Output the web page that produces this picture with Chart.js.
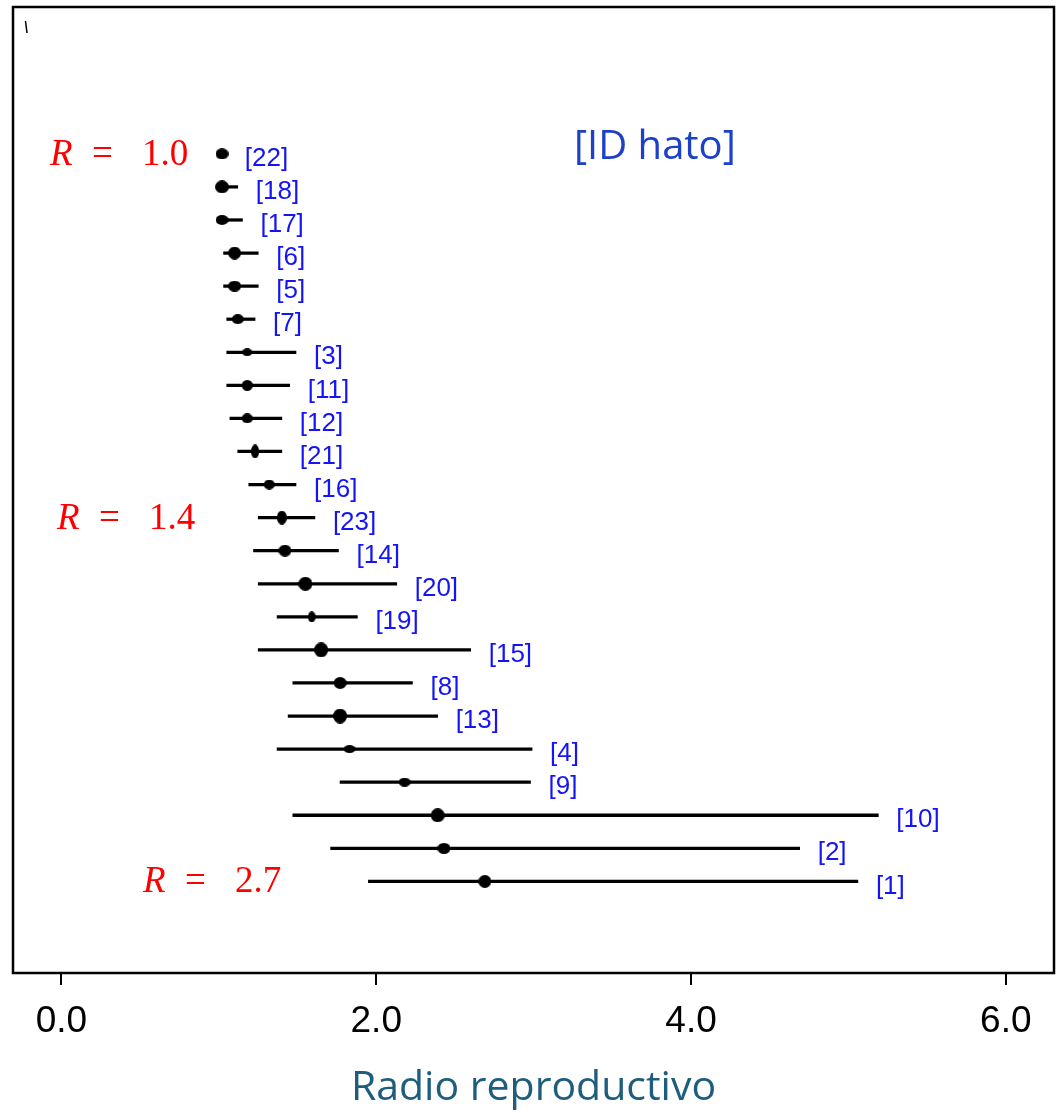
<!DOCTYPE html>
<html>
<head>
<meta charset="utf-8">
<script src="https://cdn.jsdelivr.net/npm/chart.js@4/dist/chart.umd.min.js"></script>
<style>
  html, body { margin: 0; padding: 0; background: #fff; }
  #wrap { width: 1061px; height: 1113px; }
</style>
</head>
<body>
<div id="wrap"><canvas id="myChart" width="1061" height="1113"></canvas></div>
<script>
  // Herd IDs, top to bottom
  var herdIds = ['22', '18', '17', '6', '5', '7', '3', '11', '12', '21', '16', '23',
                 '14', '20', '19', '15', '8', '13', '4', '9', '10', '2', '1'];
  // Reproductive ratio: estimate and interval
  var estimate = [1.02, 1.02, 1.02, 1.10, 1.10, 1.12, 1.18, 1.18, 1.18, 1.23, 1.32, 1.40,
                  1.42, 1.55, 1.59, 1.65, 1.77, 1.77, 1.83, 2.18, 2.39, 2.43, 2.69];
  var lower    = [1.00, 0.99, 0.99, 1.03, 1.03, 1.05, 1.05, 1.05, 1.07, 1.12, 1.19, 1.25,
                  1.22, 1.25, 1.37, 1.25, 1.47, 1.44, 1.37, 1.77, 1.47, 1.71, 1.95];
  var upper    = [1.05, 1.12, 1.15, 1.25, 1.25, 1.23, 1.49, 1.45, 1.40, 1.40, 1.49, 1.61,
                  1.76, 2.13, 1.88, 2.60, 2.23, 2.39, 2.99, 2.98, 5.19, 4.69, 5.06];
  var xTicks = [0, 2, 4, 6];

  // marker half-sizes [rx, ry] in px (styling only)
  var markerSize = [[6.5, 5.5], [7, 6.5], [6.5, 5], [6.5, 6.5], [6.5, 5.5], [6, 5], [5, 4], [5.5, 5.5],
                    [5.5, 5], [4, 7], [5.5, 5], [5, 7], [6.5, 6], [7, 7], [3.8, 5.5], [7, 7.5],
                    [6.5, 6], [7, 7.5], [6, 4], [6, 4.5], [7, 7], [6.5, 5.5], [6.5, 6.5]];

  function ellipseMarker(rx, ry) {
    var c = document.createElement('canvas');
    c.width = Math.ceil(rx * 2);
    c.height = Math.ceil(ry * 2);
    var g = c.getContext('2d');
    g.fillStyle = '#000';
    g.beginPath();
    g.ellipse(c.width / 2, c.height / 2, rx, ry, 0, 0, Math.PI * 2);
    g.fill();
    return c;
  }
  var markers = markerSize.map(s => ellipseMarker(s[0], s[1]));

  // frame, herd labels and R annotations
  var decorations = {
    id: 'decorations',
    afterDatasetsDraw(chart) {
      var ctx = chart.ctx, a = chart.chartArea;
      var xs = chart.scales.x, ys = chart.scales.y;
      ctx.save();
      ctx.strokeStyle = '#000';
      ctx.lineWidth = 2.5;
      ctx.strokeRect(a.left, a.top, a.right - a.left, a.bottom - a.top);

      // small stray mark in the corner
      ctx.lineWidth = 1.5;
      ctx.beginPath();
      ctx.moveTo(a.left + 12.5, a.top + 14);
      ctx.lineTo(a.left + 14, a.top + 26);
      ctx.stroke();

      ctx.font = '26px "Liberation Sans", Arial, sans-serif';
      ctx.fillStyle = '#1414f5';
      ctx.textBaseline = 'middle';
      ctx.textAlign = 'left';
      herdIds.forEach(function (id, i) {
        ctx.fillText('[' + id + ']', xs.getPixelForValue(upper[i]) + 18, ys.getPixelForValue(i) + 5);
      });

      ctx.font = '40px "Open Sans", sans-serif';
      ctx.fillStyle = '#1c40c8';
      ctx.textAlign = 'center';
      ctx.textBaseline = 'alphabetic';
      ctx.fillText('[ID hato]', xs.getPixelForValue(3.77), ys.getPixelForValue(0.15));

      var notes = [['1.0', -0.073, 0], ['1.4', -0.029, 11], ['2.7', 0.518, 22]];
      ctx.fillStyle = '#ff0000';
      ctx.textAlign = 'left';
      notes.forEach(function (n) {
        var x = xs.getPixelForValue(n[1]), y = ys.getPixelForValue(n[2]) + 11;
        ctx.font = 'italic 37px "Liberation Serif", serif';
        ctx.fillText('R', x, y);
        ctx.font = '37px "Liberation Serif", serif';
        ctx.fillText('=', x + 42, y);
        ctx.fillText(n[0], x + 92, y);
      });
      ctx.restore();
    }
  };

  var ctx = document.getElementById('myChart').getContext('2d');
  var myChart = new Chart(ctx, {
    data: {
      datasets: [{
        type: 'scatter',
        data: herdIds.map((id, i) => ({ x: estimate[i], y: i })),
        pointStyle: markers,
        pointRadius: 6,
        order: 0
      }, {
        type: 'bar',
        indexAxis: 'y',
        data: herdIds.map((id, i) => ({ x: [lower[i], upper[i]], y: i })),
        backgroundColor: '#000',
        barThickness: 2.6,
        order: 1
      }]
    },
    options: {
      responsive: false,
      animation: false,
      events: [],
      layout: { padding: { left: 13, right: 7, top: 6, bottom: 0 } },
      plugins: { legend: { display: false }, tooltip: { enabled: false } },
      scales: {
        x: {
          type: 'linear',
          min: -0.308,
          max: 6.306,
          offset: false,
          afterFit: function (scale) { scale.height = 140; },
          afterBuildTicks: function (scale) { scale.ticks = xTicks.map(v => ({ value: v })); },
          ticks: {
            callback: v => v.toFixed(1),
            color: '#000',
            font: { family: '"Liberation Sans", Arial, sans-serif', size: 37 },
            padding: 15,
            maxRotation: 0
          },
          grid: { drawOnChartArea: false, drawTicks: true, tickLength: 12, color: '#000', lineWidth: 2, offset: false },
          border: { display: false },
          title: {
            display: true,
            text: 'Radio reproductivo',
            color: '#1f5d7c',
            font: { family: '"Open Sans", sans-serif', size: 41 },
            padding: { top: 0, bottom: 0 }
          }
        },
        y: {
          type: 'linear',
          display: false,
          reverse: true,
          offset: false,
          min: -4.44,
          max: 24.77
        }
      }
    },
    plugins: [decorations]
  });
</script>
</body>
</html>
